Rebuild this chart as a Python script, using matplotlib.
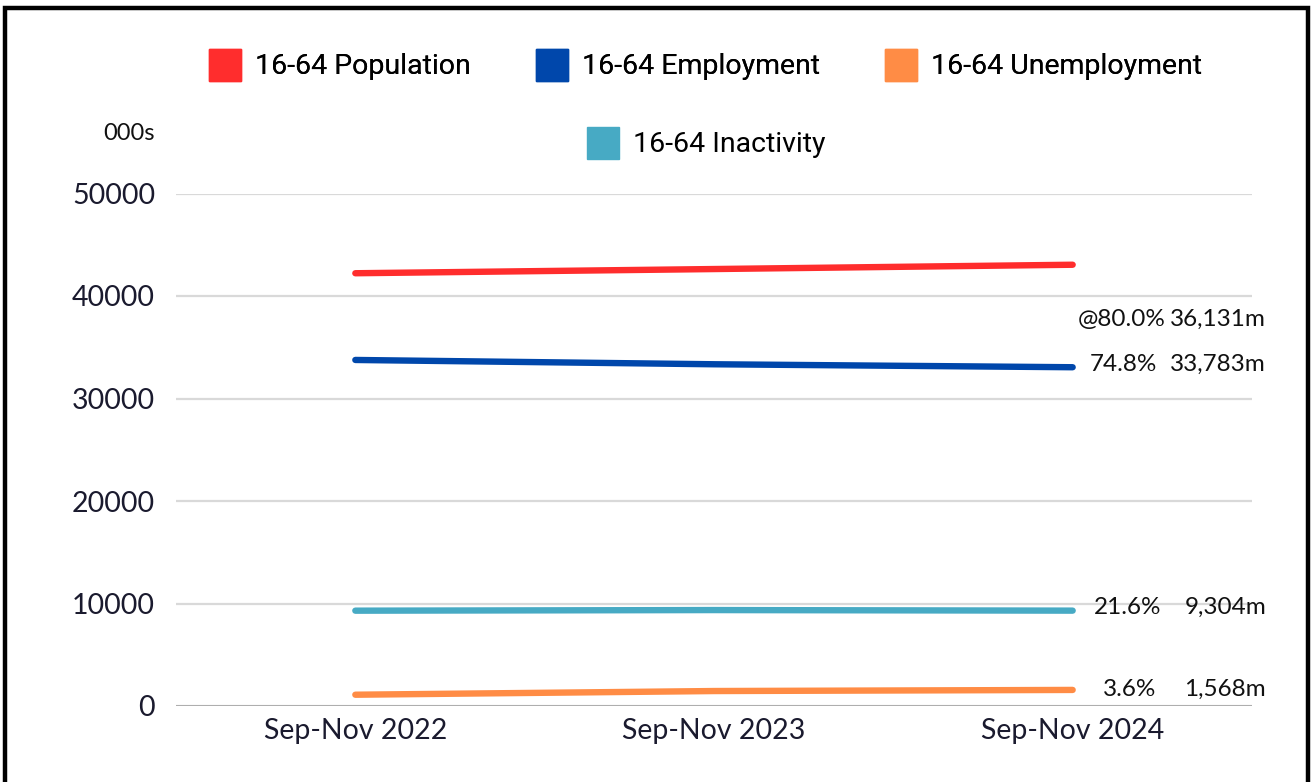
import matplotlib.pyplot as plt
from matplotlib.lines import Line2D
from matplotlib.patches import Rectangle
from matplotlib.transforms import blended_transform_factory

# 16-64 labour market, thousands
periods = ['Sep-Nov 2022', 'Sep-Nov 2023', 'Sep-Nov 2024']
population = [42220, 42630, 43050]
employment = [33760, 33340, 33050]
unemployment = [1100, 1460, 1568]
inactivity = [9300, 9360, 9304]

series_names = ['16-64 Population', '16-64 Employment', '16-64 Unemployment', '16-64 Inactivity']
colors = ['#ff2d2d', '#0047ab', '#ff8c45', '#47aac4']

# end-of-series notes: percent, level, y position
note_pct = ['@80.0%', '74.8%', '21.6%', '3.6%']
note_lvl = ['36,131m', '33,783m', '9,304m', '1,568m']
note_y = [37750, 33350, 9650, 1650]
pct_right = [1166, 1157, 1161, 1156]

plt.rcParams['font.family'] = ['Lato', 'DejaVu Sans']

fig = plt.figure(figsize=(13.12, 7.82), dpi=100)
ax = fig.add_axes([176 / 1312, 76 / 782, 1076 / 1312, 512.5 / 782])

x = range(len(periods))
for vals, c in zip([population, employment, unemployment, inactivity], colors):
    ax.plot(x, vals, color=c, lw=4.6, solid_capstyle='round', zorder=3)

ax.set_xlim(-0.5, 2.5)
ax.set_ylim(0, 50000)
ax.set_yticks(range(0, 50001, 10000))
ax.set_xticks(list(x))
ax.set_xticklabels(periods)
ax.grid(axis='y', color='#d9d9d9', lw=1.6)
ax.axhline(0, color='#a0a0a0', lw=1.8, zorder=2)
for s in ax.spines.values():
    s.set_visible(False)
ax.tick_params(length=0, labelsize=20.5, colors='#1a1a2e')
ax.tick_params(axis='y', pad=15)
ax.tick_params(axis='x', pad=9)

fig.text(155 / 1312, 1 - 133 / 782, '000s', ha='right', va='center',
         fontsize=17, color='#111111')

tr = blended_transform_factory(fig.transFigure, ax.transData)
for pct, lvl, y, xr in zip(note_pct, note_lvl, note_y, pct_right):
    ax.text(xr / 1312, y, pct, transform=tr, ha='right', va='center',
            fontsize=17.5, color='#111111', clip_on=False)
    ax.text(1266 / 1312, y, lvl, transform=tr, ha='right', va='center',
            fontsize=17.5, color='#111111', clip_on=False)

handles = [Line2D([], [], ls='none', marker='s', markersize=23, markerfacecolor=c,
                  markeredgecolor=c) for c in colors]
leg_kw = dict(frameon=False, handletextpad=0.5, columnspacing=2.3,
              handlelength=1.1, loc='center', prop={'family': 'Roboto', 'size': 20.5})
leg1 = fig.legend(handles[:3], series_names[:3], ncol=3,
                  bbox_to_anchor=(706 / 1312, 1 - 67 / 782), **leg_kw)
fig.legend(handles[3:], series_names[3:], ncol=1,
           bbox_to_anchor=(706 / 1312, 1 - 145 / 782), **leg_kw)
fig.add_artist(leg1)

# black frame around the whole chart
fig.add_artist(Rectangle((5 / 1312, -0.02), 1303 / 1312, 1 - 7.5 / 782 + 0.02,
                         transform=fig.transFigure, fill=False, ec='black', lw=3.2))

fig.savefig('out.png', dpi=100, facecolor='white')
